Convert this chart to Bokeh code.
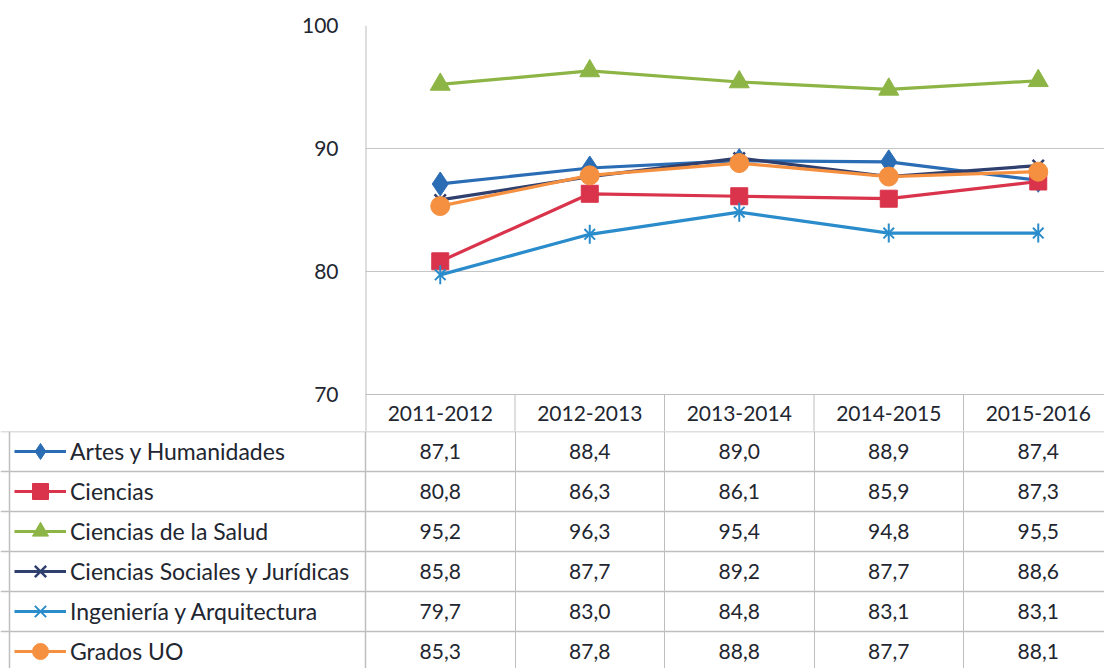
import math
from bokeh.plotting import figure
from bokeh.layouts import column
from bokeh.models import Range1d, FixedTicker, Legend, LegendItem
from bokeh.core.properties import value
from bokeh.embed import file_html
from bokeh.resources import INLINE

# ---------------- data ----------------
seasons = ["2011-2012", "2012-2013", "2013-2014", "2014-2015", "2015-2016"]
series_names = ["Artes y Humanidades", "Ciencias", "Ciencias de la Salud",
                "Ciencias Sociales y Jurídicas", "Ingeniería y Arquitectura", "Grados UO"]
artes = [87.1, 88.4, 89.0, 88.9, 87.4]
ciencias = [80.8, 86.3, 86.1, 85.9, 87.3]
salud = [95.2, 96.3, 95.4, 94.8, 95.5]
sociales = [85.8, 87.7, 89.2, 87.7, 88.6]
ingenieria = [79.7, 83.0, 84.8, 83.1, 83.1]
grados = [85.3, 87.8, 88.8, 87.7, 88.1]
y_ticks = [70, 80, 90, 100]
grid_values = [80, 90, 100]

series_values = [artes, ciencias, salud, sociales, ingenieria, grados]

# ---------------- styles ----------------
colors = ["#2A6DB5", "#D9344B", "#8CB545", "#2F3F6E", "#2A8CCB", "#F59040"]
markers = ["diamond", "square", "triangle", "x", "x", "circle"]
sizes = [24, 17, 20, 16, 15, 19]
FONT = "Lato"
FS = "21px"
LEG_FS = "23px"
TEXT_COLOR = "#222630"
GRID_COLOR = "#C6C6C6"
TABLE_COLOR = "#BEBEBE"

# ---------------- layout (pixels) ----------------
W = 1104
TOP_H = 431            # chart + header row
BOT_H = 668 - TOP_H    # data rows with series names
FRAME_LEFT = 365
FRAME_TOP = 25
PPU = (393.5 - 25) / 30.0       # pixels per unit on the y scale
COLW = 149.5                    # table column width in pixels
ROWH = 40.0                     # table row height in pixels
frame_w = W - FRAME_LEFT
y_bottom = 100 - (TOP_H - FRAME_TOP) / PPU


def yv(page_y):
    return 100 - (page_y - FRAME_TOP) / PPU


xs = [i + 0.5 for i in range(len(seasons))]
col_seps = [1, 2, 3, 4]

# ================= top figure: chart + header row =================
p = figure(width=W, height=TOP_H,
           x_range=Range1d(0, frame_w / COLW),
           y_range=Range1d(y_bottom, 100),
           output_backend="svg", toolbar_location=None,
           x_axis_location=None,
           min_border_left=FRAME_LEFT, min_border_right=0,
           min_border_top=FRAME_TOP, min_border_bottom=0)
p.frame_align = False
p.outline_line_color = None

yax = p.yaxis[0]
yax.ticker = FixedTicker(ticks=y_ticks)
yax.axis_line_color = None
yax.major_tick_line_color = None
yax.minor_tick_line_color = None
yax.major_label_standoff = 21
yax.major_label_text_font = FONT
yax.major_label_text_font_size = FS
yax.major_label_text_color = TEXT_COLOR

p.xgrid.visible = False
p.ygrid.ticker = FixedTicker(ticks=grid_values)
p.ygrid.grid_line_color = GRID_COLOR
p.ygrid.grid_line_width = 1

# table top border and header separators
p.hspan(y=[yv(394)], line_color=TABLE_COLOR, line_width=1)
p.segment(x0=col_seps, y0=[yv(394)] * 4, x1=col_seps, y1=[y_bottom] * 4,
          line_color=TABLE_COLOR, line_width=1)
p.vspan(x=[0], line_color=TABLE_COLOR, line_width=2)

# header row
p.text(x=xs, y=[yv(413)] * len(seasons), text=seasons,
       text_font=value(FONT), text_font_size=FS, text_color=TEXT_COLOR,
       text_align="center", text_baseline="middle")


def draw_series(fig, k, vals):
    c = colors[k]
    rl = fig.line(xs, vals, line_color=c, line_width=3.2)
    rends = [rl]
    if k == 4:
        r1 = fig.scatter(xs, vals, marker="x", size=sizes[k], line_color=c, line_width=2)
        r2 = fig.scatter(xs, vals, marker="dash", size=sizes[k] + 4, angle=math.pi / 2,
                         line_color=c, line_width=2)
        rends += [r1, r2]
    elif markers[k] == "x":
        r1 = fig.scatter(xs, vals, marker="x", size=sizes[k], line_color=c, line_width=2.5)
        rends.append(r1)
    else:
        r1 = fig.scatter(xs, vals, marker=markers[k], size=sizes[k],
                         fill_color=c, line_color=c)
        rends.append(r1)
    return rends


for k, vals in enumerate(series_values):
    draw_series(p, k, vals)

# ================= bottom figure: data table rows =================
b = figure(width=W, height=BOT_H,
           x_range=Range1d(-FRAME_LEFT / COLW, frame_w / COLW),
           y_range=Range1d(-BOT_H / ROWH, 0),
           output_backend="svg", toolbar_location=None,
           x_axis_location=None, y_axis_location=None,
           min_border_left=0, min_border_right=0,
           min_border_top=0, min_border_bottom=0)
b.frame_align = False
b.outline_line_color = None
b.xgrid.visible = False
b.ygrid.visible = False

b.hspan(y=[-r for r in range(6)], line_color=TABLE_COLOR, line_width=1.5)
b.vspan(x=col_seps, line_color=TABLE_COLOR, line_width=1)
b.vspan(x=[0], line_color=TABLE_COLOR, line_width=1.5)
b.vspan(x=[(9 - FRAME_LEFT) / COLW], line_color=TABLE_COLOR, line_width=1.5)

for k, vals in enumerate(series_values):
    labels = [f"{v:.1f}".replace(".", ",") for v in vals]
    b.text(x=xs, y=[-(k + 0.5)] * len(vals), text=labels,
           text_font=value(FONT), text_font_size=FS, text_color=TEXT_COLOR,
           text_align="center", text_baseline="middle")

# legend keys: the series drawn again in this figure (they lie outside its
# visible y range, so only their legend keys show)
items = []
for k, vals in enumerate(series_values):
    rends = draw_series(b, k, vals)
    items.append(LegendItem(label=series_names[k], renderers=rends))

leg = Legend(items=items, location=(14, BOT_H - 6 * ROWH),
             padding=0, margin=0, spacing=0,
             glyph_width=52, glyph_height=40, label_height=40,
             label_standoff=4,
             label_text_font=FONT, label_text_font_size=LEG_FS,
             label_text_color=TEXT_COLOR,
             border_line_color=None, background_fill_alpha=0.0)
b.add_layout(leg)

layout = column(p, b, spacing=0)
open("out.html", "w").write(file_html(layout, INLINE))
